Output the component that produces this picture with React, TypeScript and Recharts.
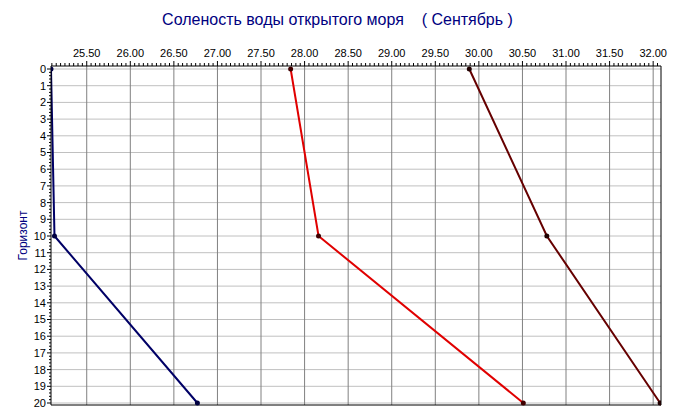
import { LineChart, Line, XAxis, YAxis, CartesianGrid, Label } from "recharts";

// depth horizons (m) and salinity values for three series
const depths = [0, 10, 20];
const blueSeries = [25.09, 25.13, 26.77];
const redSeries = [27.84, 28.16, 30.51];
const maroonSeries = [29.89, 30.78, 32.08];

const xMajorTicks = [25.5, 26, 26.5, 27, 27.5, 28, 28.5, 29, 29.5, 30, 30.5, 31, 31.5, 32];
const yMajorTicks = [0, 1, 2, 3, 4, 5, 6, 7, 8, 9, 10, 11, 12, 13, 14, 15, 16, 17, 18, 19, 20];

const xDomain = [25.09, 32.09];

// minor tick marks: every 0.05 on the salinity axis, every 0.2 on the depth axis
const xAllTicks: number[] = [];
for (let i = 2510; i <= 3205; i += 5) xAllTicks.push(i / 100);
const yAllTicks: number[] = [];
for (let i = 0; i <= 100; i++) yAllTicks.push(i / 5);

const data = depths.map((d, i) => ({
  depth: d,
  blue: blueSeries[i],
  red: redSeries[i],
  maroon: maroonSeries[i],
}));

const font = "'Liberation Sans', Arial, sans-serif";

const isMajorX = (v: number) => Math.abs(v * 2 - Math.round(v * 2)) < 1e-6;
const isMajorY = (v: number) => Math.abs(v - Math.round(v)) < 1e-6;

function XTick(props: any) {
  const { x, y, payload } = props;
  const v = payload.value;
  const major = isMajorX(v);
  return (
    <g>
      <line x1={x} x2={x} y1={y} y2={y - (major ? 5 : 3)} stroke="#000" />
      {major && (
        <text x={x} y={y - 9} textAnchor="middle" fontFamily={font} fontSize={11} fill="#000">
          {v.toFixed(2)}
        </text>
      )}
    </g>
  );
}

function YTick(props: any) {
  const { x, y, payload } = props;
  const v = payload.value;
  const major = isMajorY(v);
  return (
    <g>
      <line x1={x} x2={x - (major ? 4 : 2)} y1={y} y2={y} stroke="#000" />
      {major && (
        <text x={x - 5} y={y} dy="0.36em" textAnchor="end" fontFamily={font} fontSize={11} fill="#000">
          {v}
        </text>
      )}
    </g>
  );
}

export default function App() {
  return (
    <div style={{ position: "absolute", left: 0, top: 0, width: 675, height: 419, background: "#fff" }}>
      <div
        style={{
          position: "absolute",
          left: 0,
          top: 11,
          width: 675,
          textAlign: "center",
          fontFamily: font,
          fontSize: 16,
          color: "#000080",
          whiteSpace: "pre",
        }}
      >
        {"Соленость воды открытого моря    ( Сентябрь )"}
      </div>
      <LineChart
        width={675}
        height={419}
        data={data}
        layout="vertical"
        margin={{ top: 0, right: 0, bottom: 0, left: 0 }}
      >
        <CartesianGrid vertical={false} horizontalValues={yMajorTicks} stroke="#c0c0c0" />
        <CartesianGrid horizontal={false} verticalValues={xMajorTicks} stroke="#808080" />
        <XAxis
          type="number"
          orientation="top"
          height={66}
          domain={xDomain}
          ticks={xAllTicks}
          interval={0}
          allowDataOverflow
          tickSize={0}
          tickMargin={0}
          tickLine={false}
          tick={<XTick />}
          axisLine={{ stroke: "#000" }}
        />
        <XAxis
          xAxisId="bottom"
          type="number"
          orientation="bottom"
          height={14}
          domain={xDomain}
          tick={false}
          tickLine={false}
          axisLine={{ stroke: "#000" }}
        />
        <YAxis
          type="number"
          dataKey="depth"
          width={51}
          domain={[0, 20]}
          ticks={yAllTicks}
          interval={0}
          padding={{ top: 3, bottom: 2 }}
          tickSize={0}
          tickMargin={0}
          tickLine={false}
          tick={<YTick />}
          axisLine={{ stroke: "#000" }}
        >
          <Label
            value="Горизонт"
            angle={-90}
            position="center"
            dx={-3}
            style={{ fontFamily: font, fontSize: 12, fill: "#000080" }}
          />
        </YAxis>
        <YAxis
          yAxisId="right"
          orientation="right"
          type="number"
          width={14}
          domain={[0, 20]}
          tick={false}
          tickLine={false}
          axisLine={{ stroke: "#000" }}
        />
        <Line
          dataKey="blue"
          stroke="#000066"
          strokeWidth={2}
          dot={{ r: 1.5, fill: "#000040", stroke: "#000040" }}
          isAnimationActive={false}
        />
        <Line
          dataKey="red"
          stroke="#e00000"
          strokeWidth={2}
          dot={{ r: 1.5, fill: "#400000", stroke: "#400000" }}
          isAnimationActive={false}
        />
        <Line
          dataKey="maroon"
          stroke="#660000"
          strokeWidth={2}
          dot={{ r: 1.5, fill: "#200000", stroke: "#200000" }}
          isAnimationActive={false}
        />
      </LineChart>
    </div>
  );
}
